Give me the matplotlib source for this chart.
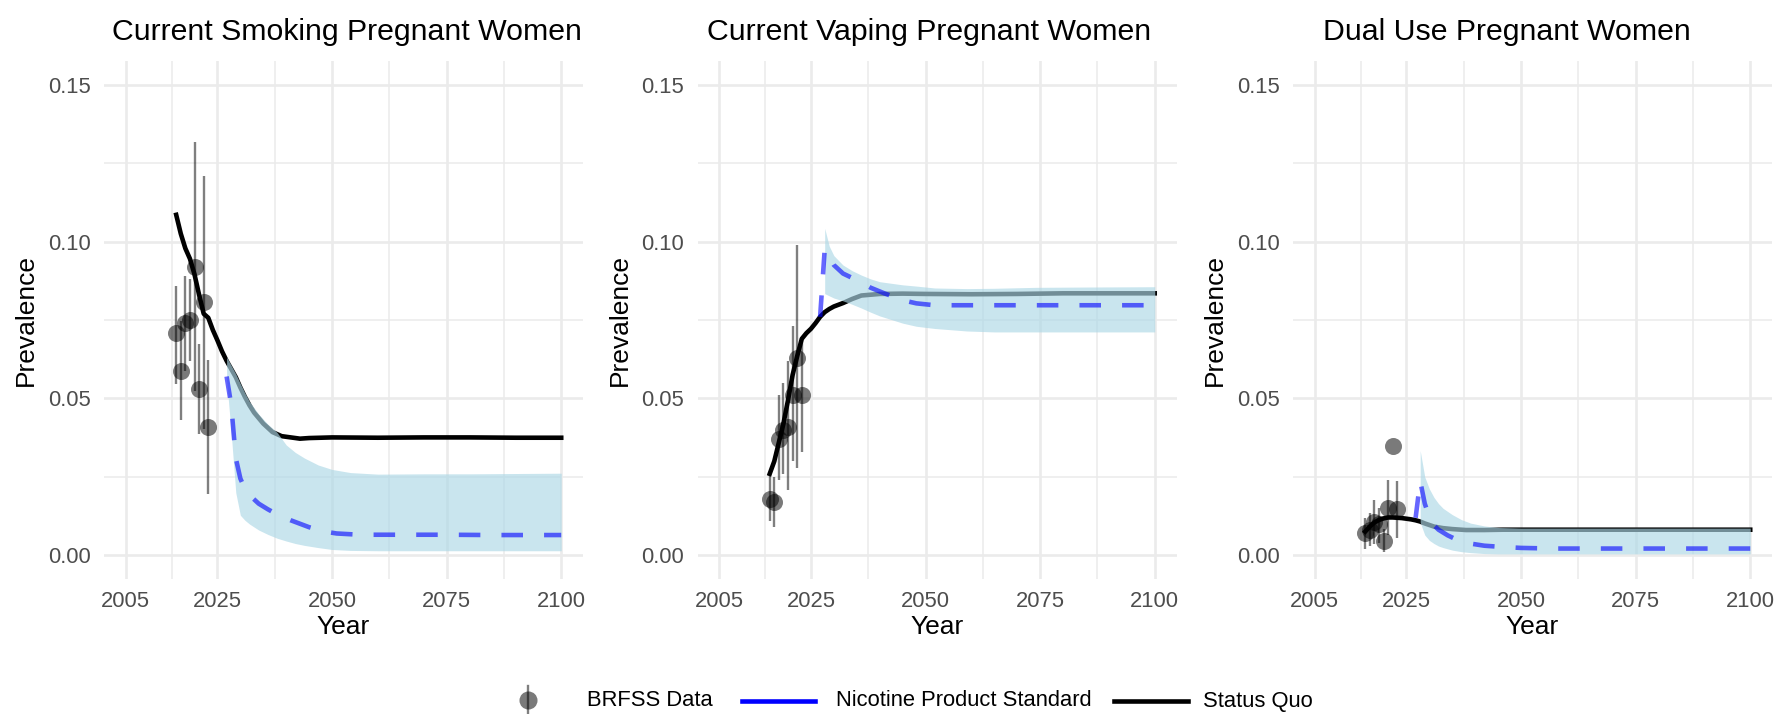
import matplotlib
matplotlib.use("Agg")
import matplotlib.pyplot as plt
from matplotlib.lines import Line2D
import numpy as np

plt.rcParams['font.family'] = ['Liberation Sans', 'DejaVu Sans']

# ---- data -------------------------------------------------------------
brfss_years = [2016, 2017, 2018, 2019, 2020, 2021, 2022, 2023]

# current smoking
smk_obs = [0.0707, 0.0589, 0.0739, 0.0749, 0.0920, 0.0531, 0.0806, 0.0408]
smk_lo = [0.0546, 0.0430, 0.0588, 0.0620, 0.0524, 0.0387, 0.0403, 0.0196]
smk_hi = [0.0857, 0.0748, 0.0890, 0.0880, 0.1316, 0.0672, 0.1209, 0.0621]
smk_sq_years = [2016, 2017, 2018, 2019, 2020, 2021, 2022, 2023, 2024, 2025, 2026,
                2027, 2028, 2029, 2030, 2031, 2032, 2033, 2035, 2037, 2039, 2041,
                2043, 2045, 2050, 2060, 2070, 2080, 2090, 2100]
smk_sq = [0.1085, 0.1025, 0.0978, 0.0945, 0.0895, 0.0830, 0.0770, 0.0757, 0.0718,
          0.0685, 0.0650, 0.0620, 0.0594, 0.0568, 0.0535, 0.0505, 0.0478, 0.0455,
          0.0420, 0.0393, 0.0380, 0.0376, 0.0372, 0.0374, 0.0376, 0.0375, 0.0376,
          0.0376, 0.0375, 0.0375]
smk_nps_years = [2027, 2028, 2029, 2030, 2031, 2032, 2034, 2036, 2038, 2041, 2045,
                 2048, 2051, 2056, 2065, 2075, 2085, 2100]
smk_nps = [0.0570, 0.0480, 0.0310, 0.0245, 0.0212, 0.0192, 0.0165, 0.0147, 0.0131,
           0.0112, 0.0090, 0.0077, 0.0070, 0.0066, 0.0066, 0.0066, 0.0065, 0.0065]
smk_rib_years = [2027, 2028, 2029, 2030, 2031, 2032, 2034, 2036, 2038, 2040, 2042,
                 2044, 2047, 2050, 2054, 2060, 2070, 2080, 2090, 2100]
smk_rib_hi = [0.0632, 0.0605, 0.0578, 0.0547, 0.0517, 0.0490, 0.0450, 0.0418, 0.0392,
              0.0352, 0.0328, 0.0310, 0.0288, 0.0274, 0.0264, 0.0259, 0.0260, 0.0260,
              0.0261, 0.0262]
smk_rib_lo = [0.0560, 0.0390, 0.0200, 0.0128, 0.0112, 0.0100, 0.0081, 0.0067, 0.0055,
              0.0046, 0.0038, 0.0032, 0.0025, 0.0019, 0.0016, 0.0015, 0.0015, 0.0015,
              0.0015, 0.0015]

# current vaping
vape_obs = [0.0180, 0.0170, 0.0370, 0.0400, 0.0410, 0.0510, 0.0630, 0.0510]
vape_lo = [0.0110, 0.0090, 0.0240, 0.0260, 0.0210, 0.0300, 0.0280, 0.0330]
vape_hi = [0.0260, 0.0250, 0.0510, 0.0550, 0.0620, 0.0730, 0.0990, 0.0690]
vape_sq_years = [2016, 2017, 2018, 2019, 2020, 2021, 2022, 2023, 2024, 2025, 2026,
                 2027, 2028, 2029, 2030, 2032, 2034, 2036, 2040, 2045, 2050, 2060,
                 2070, 2080, 2090, 2100]
vape_sq = [0.0260, 0.0300, 0.0360, 0.0420, 0.0495, 0.0575, 0.0635, 0.0690, 0.0708,
           0.0722, 0.0740, 0.0760, 0.0775, 0.0785, 0.0793, 0.0804, 0.0817, 0.0828,
           0.0833, 0.0834, 0.0833, 0.0832, 0.0833, 0.0835, 0.0835, 0.0835]
vape_nps_years = [2027, 2028, 2029, 2030, 2032, 2034, 2036, 2038, 2041, 2045, 2048,
                  2052, 2060, 2070, 2080, 2090, 2100]
vape_nps = [0.0760, 0.0975, 0.0950, 0.0925, 0.0898, 0.0884, 0.0870, 0.0853, 0.0835,
            0.0813, 0.0803, 0.0797, 0.0797, 0.0797, 0.0797, 0.0797, 0.0797]
vape_rib_years = [2028, 2029, 2030, 2032, 2034, 2036, 2038, 2040, 2045, 2048, 2052,
                  2059, 2065, 2074, 2085, 2100]
vape_rib_hi = [0.1042, 0.0985, 0.0955, 0.0925, 0.0907, 0.0893, 0.0881, 0.0872, 0.0862,
               0.0858, 0.0852, 0.0850, 0.0851, 0.0854, 0.0855, 0.0856]
vape_rib_lo = [0.0834, 0.0827, 0.0820, 0.0811, 0.0800, 0.0788, 0.0775, 0.0763, 0.0740,
               0.0730, 0.0723, 0.0715, 0.0712, 0.0712, 0.0712, 0.0712]

# dual use
dual_obs = [0.0070, 0.0082, 0.0105, 0.0100, 0.0047, 0.0152, 0.0348, 0.0148]
dual_lo = [0.0020, 0.0030, 0.0035, 0.0040, 0.0010, 0.0065, np.nan, 0.0055]
dual_hi = [0.0120, 0.0135, 0.0177, 0.0150, 0.0085, 0.0240, np.nan, 0.0237]
dual_sq_years = [2016, 2017, 2018, 2019, 2020, 2021, 2022, 2023, 2024, 2025, 2026,
                 2027, 2028, 2029, 2030, 2031, 2033, 2035, 2038, 2042, 2046, 2050,
                 2060, 2070, 2080, 2090, 2100]
dual_sq = [0.0076, 0.0092, 0.0105, 0.0113, 0.0118, 0.0121, 0.0121, 0.0120, 0.0119,
           0.0117, 0.0115, 0.0112, 0.0108, 0.0102, 0.0097, 0.0092, 0.0087, 0.0084,
           0.0081, 0.0081, 0.0082, 0.0082, 0.0082, 0.0082, 0.0082, 0.0082, 0.0082]
dual_nps_years = [2027, 2028, 2029, 2030, 2031, 2032, 2034, 2036, 2038, 2042, 2046,
                  2050, 2057, 2070, 2085, 2100]
dual_nps = [0.0120, 0.0237, 0.0165, 0.0122, 0.0096, 0.0082, 0.0064, 0.0050, 0.0040,
            0.0031, 0.0027, 0.0024, 0.0022, 0.0022, 0.0022, 0.0022]
dual_rib_years = [2028, 2029, 2030, 2031, 2032, 2033, 2035, 2037, 2039, 2042, 2045,
                  2050, 2060, 2070, 2080, 2090, 2100]
dual_rib_hi = [0.0334, 0.0250, 0.0212, 0.0185, 0.0165, 0.0150, 0.0130, 0.0114, 0.0103,
               0.0094, 0.0089, 0.0087, 0.0087, 0.0087, 0.0087, 0.0087, 0.0087]
dual_rib_lo = [0.0105, 0.0065, 0.0048, 0.0038, 0.0030, 0.0025, 0.0017, 0.0012, 0.0009,
               0.0006, 0.0005, 0.0005, 0.0005, 0.0005, 0.0005, 0.0005, 0.0005]

titles = ['Current Smoking Pregnant Women', 'Current Vaping Pregnant Women',
          'Dual Use Pregnant Women']
x_breaks = [2005, 2025, 2050, 2075, 2100]
x_minor = [2015, 2037.5, 2062.5, 2087.5]
y_breaks = [0.00, 0.05, 0.10, 0.15]
y_minor = [0.025, 0.075, 0.125]
legend_labels = ['BRFSS Data', 'Nicotine Product Standard', 'Status Quo']

# ---- layout (pixels) ---------------------------------------------------
W, H = 1780, 714
def fx(x):
    return x / W
def fy(y):
    return 1 - y / H

panel_left = [104, 697.5, 1293]
panel_w = 479
panel_top, panel_bot = 61, 579
title_cx = [347, 929, 1507]

grid_col = '#EBEBEB'
tick_col = '#4D4D4D'
rib_col = 'lightblue'
lw_line = 3.3

fig = plt.figure(figsize=(W / 100, H / 100), dpi=100)

panels = [
    (smk_obs, smk_lo, smk_hi, smk_sq_years, smk_sq, smk_nps_years, smk_nps,
     smk_rib_years, smk_rib_lo, smk_rib_hi),
    (vape_obs, vape_lo, vape_hi, vape_sq_years, vape_sq, vape_nps_years, vape_nps,
     vape_rib_years, vape_rib_lo, vape_rib_hi),
    (dual_obs, dual_lo, dual_hi, dual_sq_years, dual_sq, dual_nps_years, dual_nps,
     dual_rib_years, dual_rib_lo, dual_rib_hi),
]

for i, (obs, lo, hi, sqx, sqy, npx, npy, rx, rlo, rhi) in enumerate(panels):
    left = panel_left[i]
    ax = fig.add_axes([fx(left), fy(panel_bot), panel_w / W, (panel_bot - panel_top) / H])

    ax.vlines(brfss_years, lo, hi, color='black', alpha=0.5, lw=1.7, zorder=2)
    ax.scatter(brfss_years, obs, s=150, color='black', alpha=0.52, lw=0, zorder=3)
    ax.plot(sqx, sqy, color='black', lw=lw_line, zorder=4)
    ax.fill_between(rx, rlo, rhi, color=rib_col, alpha=0.66, lw=0, zorder=5)
    ax.plot(npx, npy, color='blue', alpha=0.6, lw=lw_line, ls=(0, (4.7, 4.6)), zorder=6)

    ax.set_xlim(2000.25, 2104.75)
    ax.set_ylim(-0.0075, 0.1575)
    ax.set_xticks(x_breaks)
    ax.set_xticks(x_minor, minor=True)
    ax.set_yticks(y_breaks)
    ax.set_yticks(y_minor, minor=True)
    ax.set_xticklabels([str(v) for v in x_breaks])
    ax.set_yticklabels([f'{v:.2f}' for v in y_breaks])
    ax.grid(which='major', color=grid_col, lw=1.9)
    ax.grid(which='minor', color=grid_col, lw=1.1)
    ax.set_axisbelow(True)
    for s in ax.spines.values():
        s.set_visible(False)
    ax.tick_params(which='both', length=0)
    ax.tick_params(axis='x', pad=8.5, labelsize=15.8, labelcolor=tick_col)
    ax.tick_params(axis='y', pad=9.6, labelsize=15.8, labelcolor=tick_col)

    fig.text(fx(title_cx[i]), fy(40), titles[i], fontsize=21.8, ha='center', va='baseline')
    fig.text(fx(left + panel_w / 2), fy(627), 'Year', fontsize=19, ha='center', va='center')
    fig.text(fx(left - 78), fy((panel_top + panel_bot) / 2), 'Prevalence', fontsize=19,
             rotation=90, ha='center', va='center')

# ---- legend -------------------------------------------------------------
ly = 701
fig.add_artist(Line2D([fx(527.5)] * 2, [fy(686), fy(714)], color='black', alpha=0.5,
                      lw=1.7, transform=fig.transFigure))
fig.add_artist(Line2D([fx(527.5)], [fy(700)], marker='o', markersize=13, color='black',
                      alpha=0.52, mew=0, transform=fig.transFigure))
fig.text(fx(586.7), fy(ly), legend_labels[0], fontsize=15.8, va='center', ha='left')
fig.add_artist(Line2D([fx(742), fx(815)], [fy(ly)] * 2, color='blue', lw=lw_line,
                      transform=fig.transFigure))
fig.text(fx(836), fy(ly), legend_labels[1], fontsize=15.8, va='center', ha='left')
fig.add_artist(Line2D([fx(1114), fx(1188)], [fy(ly)] * 2, color='black', lw=lw_line,
                      transform=fig.transFigure))
fig.text(fx(1203), fy(ly), legend_labels[2], fontsize=15.8, va='center', ha='left')

fig.savefig('out.png', dpi=100, facecolor='white')
